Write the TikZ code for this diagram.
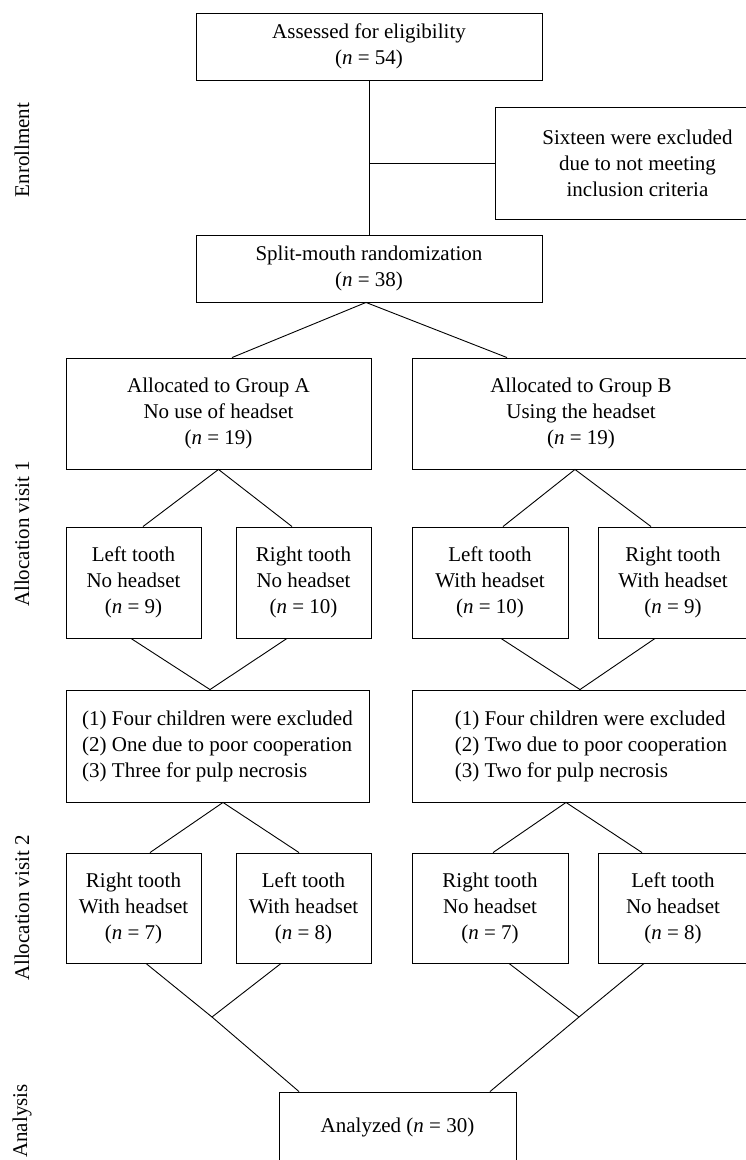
\documentclass[tikz,border=0pt]{standalone}
\usepackage{fontspec}
\setmainfont{Liberation Serif}
\usepackage{tikz}
\tikzset{
	flowbox/.style={
		draw,
		line width=0.9pt,
		align=center,
		inner sep=0pt,
		font=\fontsize{21}{26}\selectfont
	},
	stage/.style={
		rotate=90,
		inner sep=0pt,
		font=\fontsize{21}{26}\selectfont
	},
	flowline/.style={line width=0.9pt},
}

\begin{document}
\begin{tikzpicture}[x=1pt,y=-1pt]
\useasboundingbox (0,0) rectangle (746,1160);
\clip (0,0) rectangle (746,1160);

\node[stage] (enrollment) at (22,150) {Enrollment};
\node[stage] (visitOne) at (22,534) {Allocation visit 1};
\node[stage] (visitTwo) at (22,908) {Allocation visit 2};
\node[stage] (analysis) at (22,1121) {Analysis};

\node[flowbox, minimum width=346pt, minimum height=67pt] (eligibility) at (369,46.5)
	{Assessed for eligibility\\(\textit{n} = 54)};
\node[flowbox, minimum width=285pt, minimum height=112pt] (excluded) at (637.5,163)
	{Sixteen were excluded\\due to not meeting\\inclusion criteria};
\node[flowbox, minimum width=346pt, minimum height=67pt] (splitMouth) at (369,268.5)
	{Split-mouth randomization\\(\textit{n} = 38)};

	\node[flowbox, minimum width=305pt, minimum height=111pt] (groupA) at (218.5,413.5)
		{Allocated to Group A\\No use of headset\\(\textit{n} = 19)};
	\node[flowbox, minimum width=338pt, minimum height=111pt] (groupB) at (581,413.5)
		{Allocated to Group B\\Using the headset\\(\textit{n} = 19)};

		\node[flowbox, minimum width=135pt, minimum height=111pt] (leftA) at (133.5,582.5)
			{Left tooth\\No headset\\(\textit{n} = 9)};
		\node[flowbox, minimum width=135pt, minimum height=111pt] (rightA) at (303.5,582.5)
			{Right tooth\\No headset\\(\textit{n} = 10)};
		\node[flowbox, minimum width=156pt, minimum height=111pt] (leftB) at (490,582.5)
			{Left tooth\\With headset\\(\textit{n} = 10)};
		\node[flowbox, minimum width=150pt, minimum height=111pt] (rightB) at (673,582.5)
			{Right tooth\\With headset\\(\textit{n} = 9)};

	\node[flowbox, align=left, minimum width=303pt, minimum height=112pt] (excludedA) at (217.5,746)
		{(1) Four children were excluded\\(2) One due to poor cooperation\\(3) Three for pulp necrosis};
	\node[flowbox, align=left, minimum width=358pt, minimum height=112pt] (excludedB) at (591,746)
		{(1) Four children were excluded\\(2) Two due to poor cooperation\\(3) Two for pulp necrosis};

		\node[flowbox, minimum width=135pt, minimum height=110pt] (rightA2) at (133.5,908)
			{Right tooth\\With headset\\(\textit{n} = 7)};
		\node[flowbox, minimum width=135pt, minimum height=110pt] (leftA2) at (303.5,908)
			{Left tooth\\With headset\\(\textit{n} = 8)};
		\node[flowbox, minimum width=156pt, minimum height=110pt] (rightB2) at (490,908)
			{Right tooth\\No headset\\(\textit{n} = 7)};
		\node[flowbox, minimum width=150pt, minimum height=110pt] (leftB2) at (673,908)
			{Left tooth\\No headset\\(\textit{n} = 8)};

\node[flowbox, minimum width=237pt, minimum height=70pt] (analyzed) at (397.5,1127)
	{Analyzed (\textit{n} = 30)};

\coordinate (joinA) at (212,1017);
\coordinate (joinB) at (579,1017);

\draw[flowline] (eligibility) -- (splitMouth);
\draw[flowline] (eligibility.south |- excluded.west) -- (excluded.west);
\draw[flowline] ([xshift=13.5pt]groupA.north) -- ([xshift=-3pt]splitMouth.south) -- ([xshift=-74pt]groupB.north);
\draw[flowline] ([xshift=9.5pt]leftA.north) -- (groupA.south) -- ([xshift=-11.5pt]rightA.north);
\draw[flowline] ([xshift=13pt]leftB.north) -- ([xshift=-6pt]groupB.south) -- ([xshift=-22pt]rightB.north);
\draw[flowline] ([xshift=-2.5pt]leftA.south) -- ([xshift=-7.5pt]excludedA.north) -- ([xshift=-16.5pt]rightA.south);
\draw[flowline] ([xshift=11pt]leftB.south) -- ([xshift=-11pt]excludedB.north) -- ([xshift=-18pt]rightB.south);
\draw[flowline] ([xshift=16.5pt]rightA2.north) -- ([xshift=5.5pt]excludedA.south) -- ([xshift=-4.5pt]leftA2.north);
\draw[flowline] ([xshift=3pt]rightB2.north) -- ([xshift=-25pt]excludedB.south) -- ([xshift=-31pt]leftB2.north);
\draw[flowline] ([xshift=12.5pt]rightA2.south) -- (joinA) -- ([xshift=-22.5pt]leftA2.south);
\draw[flowline] ([xshift=19pt]rightB2.south) -- (joinB) -- ([xshift=-29pt]leftB2.south);
\draw[flowline] (joinA) -- ([xshift=-98.5pt]analyzed.north);
\draw[flowline] (joinB) -- ([xshift=92.5pt]analyzed.north);
\end{tikzpicture}
\end{document}
